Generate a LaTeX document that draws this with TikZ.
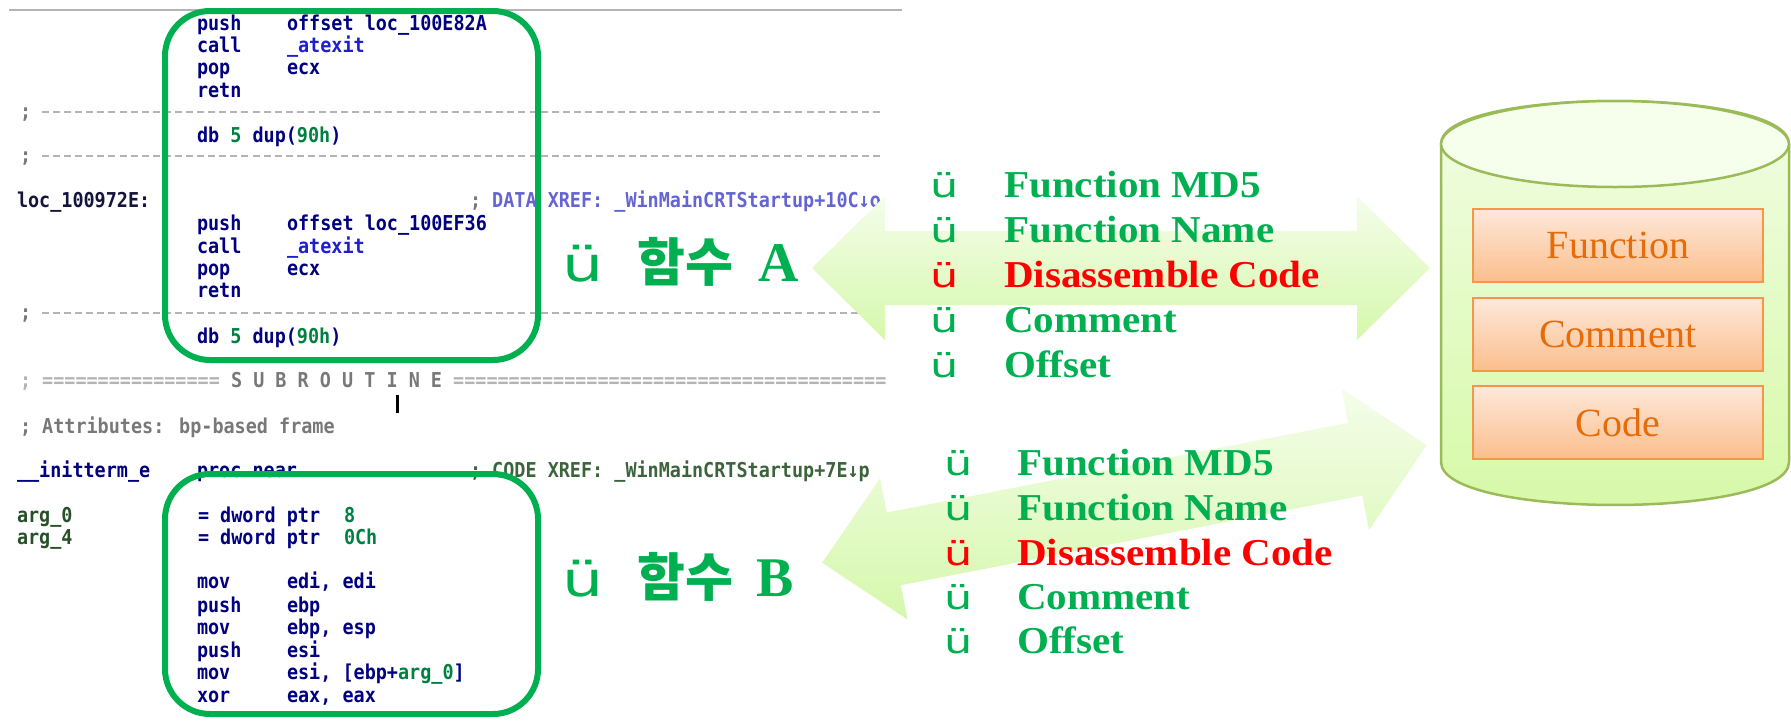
\documentclass[tikz,border=0pt]{standalone}
\usepackage{fontspec}
\newfontfamily\idafont{DejaVu Sans Mono}[FakeStretch=0.9]
\newfontfamily\chkfont{DejaVu Sans}[FakeStretch=1.35]
\newfontfamily\kofont{Noto Sans CJK KR}
\newfontfamily\listfont{Liberation Serif}[FakeStretch=1.08]
\newfontfamily\dbfont{Liberation Serif}

% disassembly listing colours
\definecolor{idanavy}{RGB}{0,0,128}
\definecolor{idablue}{RGB}{30,30,210}
\definecolor{idanum}{RGB}{0,128,64}
\definecolor{idalabel}{RGB}{20,20,60}
\definecolor{idaxref}{RGB}{100,100,210}
\definecolor{idacxref}{RGB}{60,100,60}
\definecolor{idaarg}{RGB}{40,80,40}
\definecolor{idagray}{RGB}{120,120,120}
\definecolor{idadash}{RGB}{180,180,180}
% slide colours
\definecolor{boxgreen}{RGB}{0,176,80}
\definecolor{listred}{RGB}{255,0,0}
\definecolor{arrtop}{RGB}{244,253,234}
\definecolor{arrbottom}{RGB}{214,248,172}
\definecolor{dbedge}{RGB}{155,187,89}
\definecolor{dbcap}{RGB}{246,254,236}
\definecolor{dbtop}{RGB}{242,253,230}
\definecolor{dbbottom}{RGB}{214,249,166}
\definecolor{celledge}{RGB}{247,150,70}
\definecolor{celltop}{RGB}{254,232,218}
\definecolor{cellbottom}{RGB}{251,190,140}
\definecolor{celltext}{RGB}{228,108,10}

\begin{document}
\begin{tikzpicture}[x=1pt, y=-1pt,
  ida/.style={anchor=base west, inner sep=0pt, outer sep=0pt,
    font=\idafont\bfseries\fontsize{20.5}{24}\selectfont, text=idanavy},
  idadashes/.style={draw=idadash, line width=2pt, dash pattern=on 7pt off 4.08pt},
  codebox/.style={draw=boxgreen, line width=6pt, rounded corners=45pt},
  flowarrow/.style={top color=arrtop, bottom color=arrbottom, draw=none},
  chk/.style={anchor=base west, inner sep=0pt, text=boxgreen,
    font=\chkfont\fontsize{33}{36}\selectfont},
  item/.style={anchor=base west, inner sep=0pt, text=boxgreen,
    font=\listfont\bfseries\fontsize{38}{42}\selectfont},
  chkbig/.style={anchor=base west, inner sep=0pt, text=boxgreen,
    font=\chkfont\fontsize{48}{52}\selectfont},
  kor/.style={anchor=base west, inner sep=0pt, text=boxgreen,
    font=\kofont\bfseries\fontsize{52}{56}\selectfont},
  fnletter/.style={anchor=base west, inner sep=0pt, text=boxgreen,
    font=\dbfont\bfseries\fontsize{56}{60}\selectfont},
  cell/.style={draw=celledge, line width=2.5pt, top color=celltop, bottom color=cellbottom,
    minimum width=290pt, minimum height=73pt, inner sep=0pt, text=celltext,
    font=\dbfont\fontsize{40}{44}\selectfont}]

\useasboundingbox (0,0) rectangle (1791,721);

% ---------- disassembly listing ----------
\draw[draw=idadash, line width=2pt] (9,10) -- (902,10);

\node[ida] (m1) at (197,30) {push};
\node[ida] (o1) at (287,30) {offset loc\_100E82A};
\node[ida] (m2) at (197,52) {call};
\node[ida, text=idablue] (o2) at (287,52) {\_atexit};
\node[ida] (m3) at (197,74) {pop};
\node[ida] (o3) at (287,74) {ecx};
\node[ida] (m4) at (197,97) {retn};
\node[ida, text=idagray] (s1) at (20,118) {;};
\draw[idadashes] (42,112) -- (881,112);
\node[ida] (m5) at (197,142) {db \textcolor{idanum}{5} dup(\textcolor{idanum}{90h})};
\node[ida, text=idagray] (s2) at (20,162) {;};
\draw[idadashes] (42,156) -- (881,156);

\node[ida, text=idalabel] (l1) at (17,207) {loc\_100972E:};
\node[ida, text=idaxref] (x1) at (470,207) {\textcolor{idagray}{;} DATA XREF: \_WinMainCRTStartup+10C↓o};
\node[ida] (m6) at (197,230) {push};
\node[ida] (o6) at (287,230) {offset loc\_100EF36};
\node[ida] (m7) at (197,253) {call};
\node[ida, text=idablue] (o7) at (287,253) {\_atexit};
\node[ida] (m8) at (197,275) {pop};
\node[ida] (o8) at (287,275) {ecx};
\node[ida] (m9) at (197,297) {retn};
\node[ida, text=idagray] (s3) at (20,319) {;};
\draw[idadashes] (42,313) -- (881,313);
\node[ida] (m10) at (197,343) {db \textcolor{idanum}{5} dup(\textcolor{idanum}{90h})};

\node[ida, text=idadash] (sub) at (20,387)
  {; ================ \textcolor{idagray}{S U B R O U T I N E} =======================================};
\draw[line width=3pt] (397,395) -- (397,413);
\node[ida, text=idagray] (attr) at (20,433) {; Attributes: bp-based frame};

\node[ida] (l2) at (17,477) {\_\_initterm\_e};
\node[ida] (m11) at (197,477) {proc near};
\node[ida, text=idacxref] (x2) at (470,477) {; CODE XREF: \_WinMainCRTStartup+7E↓p};
\node[ida, text=idaarg] (l3) at (17,522) {arg\_0};
\node[ida] (m12) at (198,522) {= dword ptr};
\node[ida, text=idanum] (o12) at (344,522) {8};
\node[ida, text=idaarg] (l4) at (17,544) {arg\_4};
\node[ida] (m13) at (198,544) {= dword ptr};
\node[ida, text=idanum] (o13) at (344,544) {0Ch};
\node[ida] (m14) at (197,588) {mov};
\node[ida] (o14) at (287,588) {edi, edi};
\node[ida] (m15) at (197,612) {push};
\node[ida] (o15) at (287,612) {ebp};
\node[ida] (m16) at (197,634) {mov};
\node[ida] (o16) at (287,634) {ebp, esp};
\node[ida] (m17) at (197,657) {push};
\node[ida] (o17) at (287,657) {esi};
\node[ida] (m18) at (197,679) {mov};
\node[ida] (o18) at (287,679) {esi, [ebp+\textcolor{idanum}{arg\_0}]};
\node[ida] (m19) at (197,702) {xor};
\node[ida] (o19) at (287,702) {eax, eax};

% highlighted functions
\draw[codebox] (165,11) rectangle (538,360);
\draw[codebox] (165,474) rectangle (538,714);

% ---------- labels ----------
\node[chkbig] (ta0) at (562,281) {ü};
\node[kor] (ta1) at (637,281) {함수};
\node[fnletter] (ta2) at (758,281) {A};
\node[chkbig] (tb0) at (562,596) {ü};
\node[kor] (tb1) at (637,596) {함수};
\node[fnletter] (tb2) at (756,596) {B};

% ---------- double arrows ----------
\begin{scope}[shift={(1121,268)}]
  \shade[flowarrow] (-309,0) -- (-236,-72) -- (-236,-37) -- (236,-37) -- (236,-72)
    -- (309,0) -- (236,72) -- (236,37) -- (-236,37) -- (-236,72) -- cycle;
\end{scope}
\begin{scope}[shift={(1124.5,504)}, rotate=11]
  \shade[flowarrow] (-308,0) -- (-235,-72) -- (-235,-37) -- (235,-37) -- (235,-72)
    -- (308,0) -- (235,72) -- (235,37) -- (-235,37) -- (-235,72) -- cycle;
\end{scope}

% ---------- compared items ----------
\node[chk] (a1c) at (930,197) {ü};
\node[item] (a1) at (1004,197) {Function MD5};
\node[chk] (a2c) at (930,242) {ü};
\node[item] (a2) at (1004,242) {Function Name};
\node[chk, text=listred] (a3c) at (930,287) {ü};
\node[item, text=listred] (a3) at (1004,287) {Disassemble Code};
\node[chk] (a4c) at (930,332) {ü};
\node[item] (a4) at (1004,332) {Comment};
\node[chk] (a5c) at (930,377) {ü};
\node[item] (a5) at (1004,377) {Offset};

\node[chk] (b1c) at (944,475) {ü};
\node[item] (b1) at (1017,475) {Function MD5};
\node[chk] (b2c) at (944,520) {ü};
\node[item] (b2) at (1017,520) {Function Name};
\node[chk, text=listred] (b3c) at (944,565) {ü};
\node[item, text=listred] (b3) at (1017,565) {Disassemble Code};
\node[chk] (b4c) at (944,609) {ü};
\node[item] (b4) at (1017,609) {Comment};
\node[chk] (b5c) at (944,653) {ü};
\node[item] (b5) at (1017,653) {Offset};

% ---------- database cylinder ----------
\shade[top color=dbtop, bottom color=dbbottom, draw=dbedge, line width=2.5pt]
  (1441,144) -- (1441,462) .. controls (1441,519.3) and (1789,519.3) .. (1789,462)
  -- (1789,144) .. controls (1789,86.7) and (1441,86.7) .. (1441,144) -- cycle;
\draw[fill=dbcap, draw=dbedge, line width=2.5pt] (1615,144) ellipse [x radius=174pt, y radius=43pt];

\node[cell] (c1) at (1618,245.5) {Function};
\node[cell] (c2) at (1618,334.5) {Comment};
\node[cell] (c3) at (1618,422.5) {Code};
\end{tikzpicture}
\end{document}
